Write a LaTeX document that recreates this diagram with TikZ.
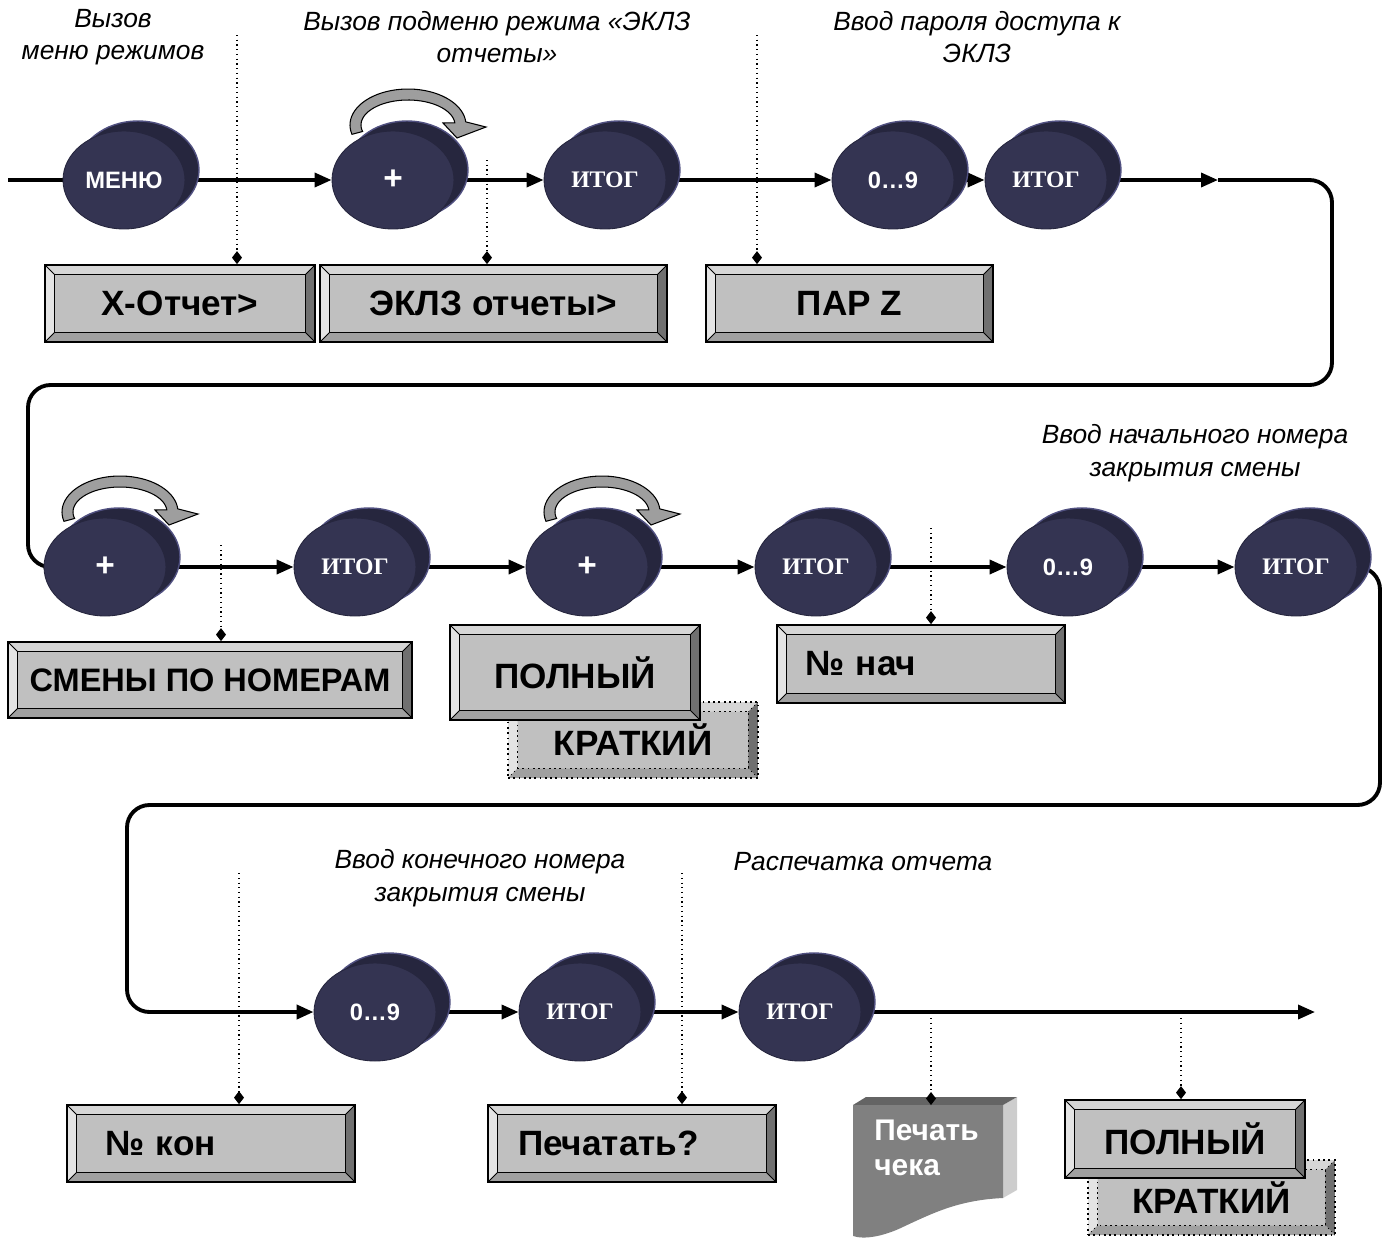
\documentclass[tikz,border=0pt]{standalone}
\usepackage{fontspec}
\setmainfont{Liberation Sans}
\newfontfamily\keyserif{Liberation Serif}
\usetikzlibrary{arrows.meta,shapes.geometric,shadows,backgrounds}

\definecolor{keyfront}{RGB}{52,52,82}
\definecolor{keyback}{RGB}{38,38,62}
\definecolor{keyrim}{RGB}{80,80,128}
\definecolor{boxface}{RGB}{192,192,192}
\definecolor{beveltop}{RGB}{214,214,214}
\definecolor{bevelleft}{RGB}{228,228,228}
\definecolor{bevelright}{RGB}{112,112,112}
\definecolor{bevelbottom}{RGB}{160,160,160}
\definecolor{turngray}{RGB}{158,158,158}
\definecolor{docface}{RGB}{128,128,128}
\definecolor{doctop}{RGB}{100,100,100}
\definecolor{docside}{RGB}{205,205,205}

\newcommand{\itogkey}{{\keyserif ИТОГ}}
\newcommand{\pluskey}{{\fontsize{19}{20}\selectfont +}}
\newcommand{\bw}{0.19cm}

% curved "press again" arrow above a key
\newcommand{\turnarrow}[1]{%
  \begin{scope}[shift={(#1)}]
    \filldraw[fill=turngray, draw=black, line width=0.6pt]
      plot[domain=165:355, samples=40] ({15+58*cos(\x)}, {-55+36*sin(\x)})
      -- (93,-53) -- (64,-42) -- (50,-57)
      -- plot[domain=355:165, samples=40] ({15+47*cos(\x)}, {-55+25*sin(\x)})
      -- cycle;
  \end{scope}}

\tikzset{
  key/.style={ellipse, fill=keyfront, draw=keyback, line width=0.5pt,
    minimum width=2.44cm, minimum height=1.96cm, inner sep=0pt,
    text=white, font=\bfseries\fontsize{13.5}{16}\selectfont,
    general shadow={fill=keyback, draw=keyrim, line width=0.8pt,
      shadow xshift=0.28cm, shadow yshift=0.2cm}},
  flowline/.style={line width=2pt},
  flow/.style={flowline, -{Triangle[length=0.34cm, width=0.28cm]}},
  loopline/.style={flow, line width=2.2pt, rounded corners=0.45cm},
  pointer/.style={dotted, line width=0.7pt, -{Diamond[length=0.26cm, width=0.2cm]}},
  note/.style={align=center, font=\itshape\fontsize{15}{18.5}\selectfont},
  bevel lines/.style={solid},
  bevelbox/.style={rectangle, fill=boxface, draw=black, line width=1pt,
    inner sep=0pt, font=\bfseries\fontsize{20}{24}\selectfont,
    path picture={
      \path (path picture bounding box.south west) coordinate (bl)
            (path picture bounding box.north east) coordinate (tr);
      \path ([shift={(\bw,\bw)}]bl) coordinate (ibl)
            ([shift={(-\bw,-\bw)}]tr) coordinate (itr);
      \fill[beveltop] (bl|-tr) -- (tr) -- (itr) -- (ibl|-itr) -- cycle;
      \fill[bevelleft] (bl|-tr) -- (ibl|-itr) -- (ibl) -- (bl) -- cycle;
      \fill[bevelright] (tr) -- (tr|-bl) -- (itr|-ibl) -- (itr) -- cycle;
      \fill[bevelbottom] (bl) -- (ibl) -- (itr|-ibl) -- (tr|-bl) -- cycle;
      \draw[bevel lines, line width=0.5pt] (bl|-tr) -- (ibl|-itr) (tr) -- (itr)
            (bl) -- (ibl) (tr|-bl) -- (itr|-ibl);
      \draw[bevel lines, line width=1pt] (ibl) rectangle (itr);
    }},
  ghostbox/.style={bevelbox, dotted, bevel lines/.style={dotted}},
  doctext/.style={align=left, inner sep=0pt, text=white,
    font=\bfseries\fontsize{17}{19.5}\selectfont},
}

\begin{document}
\begin{tikzpicture}[x=0.02cm, y=-0.02cm]
    \useasboundingbox (0,0) rectangle (1386,1238);

    % Notes
    \node[note] (n1) at (113,37) {Вызов\\меню режимов};
    \node[note] (n2) at (497,37) {Вызов подменю режима «ЭКЛЗ\\отчеты»};
    \node[note] (n3) at (977,37) {Ввод пароля доступа к\\ЭКЛЗ};
    \node[note] (n4) at (1195,453) {Ввод начального номера\\закрытия смены};
    \node[note] (n5) at (480,878) {Ввод конечного номера\\закрытия смены};
    \node[note] (n6) at (863,862) {Распечатка отчета};

    % Keys, row 1
    \foreach \nm/\xx/\lbl in {menu/124/МЕНЮ, plus1/393/\pluskey, itog1/605/\itogkey,
                             dig1/893/0…9, itog2/1046/\itogkey}{
        \node[key] (\nm) at (\xx,180) {\lbl};
    }
    % Keys, row 2
    \foreach \nm/\xx/\lbl in {plus2/105/\pluskey, itog3/355/\itogkey, plus3/587/\pluskey,
                             itog4/816/\itogkey, dig2/1068/0…9, itog5/1296/\itogkey}{
        \node[key] (\nm) at (\xx,567) {\lbl};
    }
    % Keys, row 3
    \foreach \nm/\xx/\lbl in {dig3/375/0…9, itog6/580/\itogkey, itog7/800/\itogkey}{
        \node[key] (\nm) at (\xx,1012) {\lbl};
    }

    \turnarrow{plus1}
    \turnarrow{plus2}
    \turnarrow{plus3}

    % Flow
    \coordinate (start) at (8,180);
    \coordinate (bend1) at (1218,180);
    \coordinate (endpt) at (1315,1012);
    \begin{scope}[on background layer]
        \draw[flowline] (start) -- (menu);
        \foreach \a/\b in {menu/plus1, plus1/itog1, itog1/dig1, dig1/itog2,
                           plus2/itog3, itog3/plus3, plus3/itog4, itog4/dig2, dig2/itog5,
                           dig3/itog6, itog6/itog7}{
            \draw[flow] (\a) -- (\b);
        }
        \draw[flow] (itog2) -- (bend1);
        \draw[loopline, -] (bend1) -| (1332,385) -| (28,567) -- (plus2);
        \draw[loopline] (itog5) -| (1380,805) -| (127,1012) -- (dig3);
        \draw[flow] (itog7) -- (endpt);
    \end{scope}

    % Display boxes
    \node[bevelbox, minimum width=5.4cm, minimum height=1.54cm] (xrep) at (180,303.5) {X-Отчет>};
    \node[bevelbox, minimum width=6.94cm, minimum height=1.54cm] (ekl) at (493.5,303.5) {ЭКЛЗ отчеты>};
    \node[bevelbox, minimum width=5.74cm, minimum height=1.54cm] (parz) at (849.5,303.5) {ПАР Z};
    \node[bevelbox, minimum width=8.08cm, minimum height=1.52cm,
          font=\bfseries\fontsize{18.5}{22}\selectfont] (shifts) at (210,680) {СМЕНЫ ПО НОМЕРАМ};
    \node[ghostbox, minimum width=5.0cm, minimum height=1.52cm] (short1) at (633,740) {КРАТКИЙ};
    \node[bevelbox, minimum width=5.0cm, minimum height=1.9cm] (full1) at (575,672.5) {ПОЛНЫЙ};
    \node[bevelbox, minimum width=5.76cm, minimum height=1.56cm,
          text width=4.64cm, align=left] (startno) at (921,664) {№ нач};
    \node[bevelbox, minimum width=5.76cm, minimum height=1.54cm,
          text width=4.24cm, align=left] (endno) at (211,1143.5) {№ кон};
    \node[bevelbox, minimum width=5.76cm, minimum height=1.54cm,
          text width=4.56cm, align=left] (printq) at (632,1143.5) {Печатать?};
    \node[ghostbox, minimum width=4.94cm, minimum height=1.5cm] (short2) at (1211.5,1197.5) {КРАТКИЙ};
    \node[bevelbox, minimum width=4.8cm, minimum height=1.56cm] (full2) at (1185,1139) {ПОЛНЫЙ};

    % Receipt
    \fill[docside] (1003,1105) -- (1017,1097) -- (1017,1190) -- (1003,1198) -- cycle;
    \fill[doctop] (853,1105) -- (866,1097) -- (1017,1097) -- (1003,1105) -- cycle;
    \fill[docface] (853,1105) -- (1003,1105) -- (1003,1198)
        .. controls (960,1200) and (935,1212) .. (905,1226)
        .. controls (885,1236) and (865,1240) .. (853,1236) -- cycle;
    \node[doctext, anchor=north west] (doc) at (874,1120) {Печать\\чека};
    \coordinate (doctop) at (931,1105);

    % Pointers
    \coordinate (p1) at (237,35);
    \coordinate (p2) at (487,160);
    \coordinate (p3) at (757,35);
    \coordinate (p4) at (221,545);
    \coordinate (p5) at (931,528);
    \coordinate (p6) at (239,873);
    \coordinate (p7) at (682,873);
    \coordinate (p8) at (931,1018);
    \coordinate (p9) at (1181,1018);
    \draw[pointer] (p1) -- (p1 |- xrep.north);
    \draw[pointer] (p2) -- (p2 |- ekl.north);
    \draw[pointer] (p3) -- (p3 |- parz.north);
    \draw[pointer] (p4) -- (p4 |- shifts.north);
    \draw[pointer] (p5) -- (p5 |- startno.north);
    \draw[pointer] (p6) -- (p6 |- endno.north);
    \draw[pointer] (p7) -- (p7 |- printq.north);
    \draw[pointer] (p8) -- (doctop);
    \draw[pointer] (p9) -- (p9 |- full2.north);
\end{tikzpicture}
\end{document}
